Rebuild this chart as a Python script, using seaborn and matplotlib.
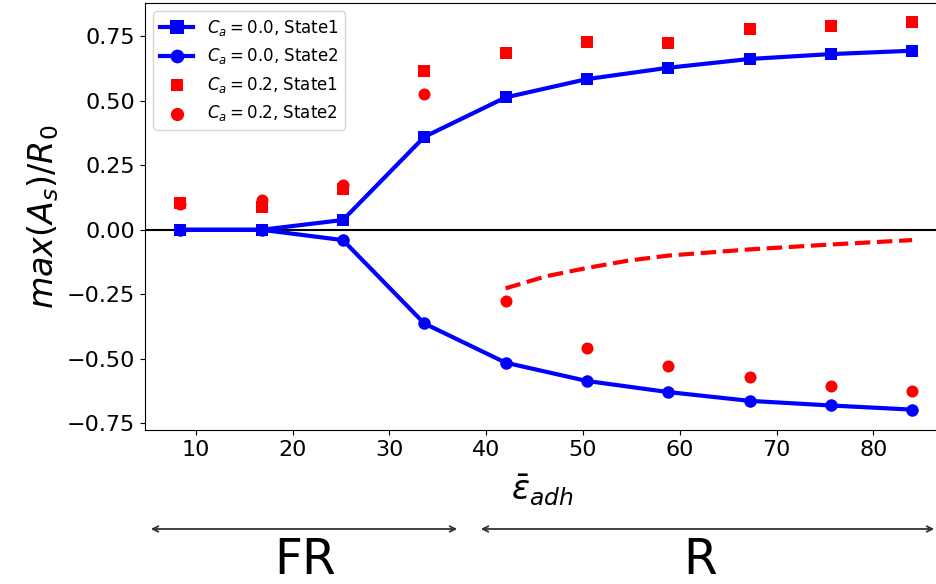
import numpy as np
import seaborn as sns
import matplotlib.pyplot as plt

# adhesion strength values (x axis)
eps_adh = [8.4, 16.8, 25.2, 33.6, 42.0, 50.4, 58.8, 67.2, 75.6, 84.0]

# Ca = 0.0
ca0_state1 = [0.0, 0.0, 0.038, 0.360, 0.513, 0.584, 0.628, 0.662, 0.681, 0.694]
ca0_state2 = [0.0, 0.0, -0.040, -0.363, -0.515, -0.586, -0.629, -0.663, -0.681, -0.697]

# Ca = 0.2
ca2_state1 = [0.105, 0.089, 0.157, 0.614, 0.686, 0.727, 0.724, 0.777, 0.790, 0.804]
ca2_state2_x = [8.4, 16.8, 25.2, 33.6, 42.0, 50.4, 58.8, 67.2, 75.6, 84.0]
ca2_state2 = [0.100, 0.115, 0.172, 0.527, -0.276, -0.457, -0.528, -0.572, -0.605, -0.623]

# dashed red curve
dash_x = [42.0, 46.2, 50.4, 54.6, 58.8, 67.2, 75.6, 84.0]
dash_y = [-0.227, -0.180, -0.148, -0.120, -0.100, -0.076, -0.057, -0.040]

fig = plt.figure(figsize=(9.37, 5.84), dpi=100)
ax = fig.add_axes([145/937, 1 - 430/584, 795/937, 427/584])

sns.lineplot(x=eps_adh, y=ca0_state1, ax=ax, color="blue", lw=3, marker="s",
             markersize=9, markeredgewidth=0, label="$C_a = 0.0$, State1")
sns.lineplot(x=eps_adh, y=ca0_state2, ax=ax, color="blue", lw=3, marker="o",
             markersize=9, markeredgewidth=0, label="$C_a = 0.0$, State2")
sns.scatterplot(x=eps_adh, y=ca2_state1, ax=ax, color="red", marker="s", s=70,
                linewidth=0, label="$C_a = 0.2$, State1")
sns.scatterplot(x=ca2_state2_x, y=ca2_state2, ax=ax, color="red", marker="o", s=75,
                linewidth=0, label="$C_a = 0.2$, State2")
sns.lineplot(x=dash_x, y=dash_y, ax=ax, color="red", lw=3, linestyle="--")

ax.axhline(0, color="black", lw=1.5, zorder=1)

ax.set_xlim(4.75, 86.88)
ax.set_ylim(-0.776, 0.879)
ax.set_xticks([10, 20, 30, 40, 50, 60, 70, 80])
ax.set_yticks([-0.75, -0.5, -0.25, 0, 0.25, 0.5, 0.75])
ax.set_yticklabels(["−0.75", "−0.50", "−0.25", "0.00", "0.25", "0.50", "0.75"])
ax.tick_params(labelsize=16)

ax.set_xlabel(r"$\bar{\epsilon}_{adh}$", fontsize=24)
ax.xaxis.set_label_coords(0.5, -0.1)
ax.set_ylabel(r"$max(A_s)/R_0$", fontsize=24)

h, l = ax.get_legend_handles_labels()
ax.legend(h[:4], l[:4], loc="upper left", fontsize=12, markerscale=1.1)

# regime arrows under the axis
ya = 1 - 529/584
ax.annotate("", xy=(148/937, ya), xytext=(460/937, ya), xycoords="figure fraction",
            arrowprops=dict(arrowstyle="<->", color="#333333", lw=1.3))
ax.annotate("", xy=(478/937, ya), xytext=(937/937, ya), xycoords="figure fraction",
            arrowprops=dict(arrowstyle="<->", color="#333333", lw=1.3))
fig.text(305/937, 0.0, "FR", fontsize=35, ha="center", va="bottom")
fig.text(700/937, 0.0, "R", fontsize=35, ha="center", va="bottom")

fig.savefig("out.png", dpi=100)
